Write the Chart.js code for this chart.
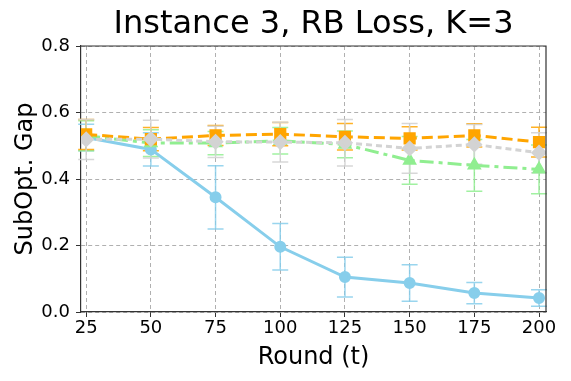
<!DOCTYPE html>
<html>
<head>
<meta charset="utf-8">
<script src="https://cdn.jsdelivr.net/npm/chart.js@4/dist/chart.umd.min.js"></script>
<style>
  html, body { margin: 0; padding: 0; background: #fff; }
  #wrap { width: 571px; height: 381px; }
</style>
</head>
<body>
<div id="wrap"><canvas id="chart" width="571" height="381"></canvas></div>
<script>
const rounds = [25, 50, 75, 100, 125, 150, 175, 200];

const blueVals = [0.525, 0.489, 0.345, 0.196, 0.105, 0.087, 0.057, 0.042];
const blueErr = [0.04, 0.05, 0.095, 0.07, 0.06, 0.055, 0.032, 0.025];

const orangeVals = [0.534, 0.52, 0.531, 0.535, 0.527, 0.522, 0.531, 0.511];
const orangeErr = [0.045, 0.035, 0.03, 0.035, 0.04, 0.035, 0.035, 0.045];

const grayVals = [0.519, 0.52, 0.512, 0.511, 0.509, 0.492, 0.504, 0.479];
const grayErr = [0.06, 0.057, 0.047, 0.06, 0.07, 0.075, 0.06, 0.06];

const greenVals = [0.53, 0.508, 0.508, 0.515, 0.504, 0.456, 0.441, 0.429];
const greenErr = [0.045, 0.04, 0.035, 0.04, 0.04, 0.072, 0.078, 0.073];

const yTicks = [0, 0.2, 0.4, 0.6, 0.8];

const font = 'DejaVu Sans';

function pts(vals) {
  return rounds.map((r, i) => ({ x: r, y: vals[i] }));
}

// vertical error bars with caps, drawn from the scales
const errorBars = {
  id: 'errorBars',
  beforeDatasetsDraw(chart) {
    const ctx = chart.ctx;
    const xs = chart.scales.x, ys = chart.scales.y;
    const sets = chart.data.datasets.slice().sort((a, b) => b.order - a.order);
    sets.forEach(d => {
      if (!d.errors) return;
      ctx.save();
      ctx.strokeStyle = d.errColor;
      ctx.lineWidth = 1.5;
      d.data.forEach((p, j) => {
        const x = xs.getPixelForValue(p.x);
        const y1 = ys.getPixelForValue(p.y - d.errors[j]);
        const y2 = ys.getPixelForValue(p.y + d.errors[j]);
        ctx.beginPath();
        ctx.moveTo(x, y1); ctx.lineTo(x, y2);
        ctx.moveTo(x - 8, y1); ctx.lineTo(x + 8, y1);
        ctx.moveTo(x - 8, y2); ctx.lineTo(x + 8, y2);
        ctx.stroke();
      });
      ctx.restore();
    });
  }
};

// top and right spines
const frame = {
  id: 'frame',
  afterDraw(chart) {
    const a = chart.chartArea, ctx = chart.ctx;
    ctx.save();
    ctx.strokeStyle = '#333';
    ctx.lineWidth = 1.2;
    ctx.beginPath();
    ctx.moveTo(a.left, a.top); ctx.lineTo(a.right, a.top); ctx.lineTo(a.right, a.bottom);
    ctx.stroke();
    ctx.restore();
  }
};

new Chart(document.getElementById('chart'), {
  type: 'line',
  data: {
    datasets: [
      {
        data: pts(blueVals), errors: blueErr, errColor: 'rgba(135,206,235,0.85)',
        borderColor: '#87CEEB', backgroundColor: '#87CEEB', borderWidth: 3,
        pointStyle: 'circle', pointRadius: 4.5, order: 4
      },
      {
        data: pts(greenVals), errors: greenErr, errColor: 'rgba(144,238,144,0.85)',
        borderColor: '#90EE90', backgroundColor: '#90EE90', borderWidth: 3,
        borderDash: [14, 5, 4, 5], pointStyle: 'triangle', pointRadius: 5.5, order: 3
      },
      {
        data: pts(orangeVals), errors: orangeErr, errColor: 'rgba(255,165,0,0.85)',
        borderColor: '#FFA500', backgroundColor: '#FFA500', borderWidth: 3,
        borderDash: [11, 5], pointStyle: 'rect', pointRadius: 6.5, order: 2
      },
      {
        data: pts(grayVals), errors: grayErr, errColor: 'rgba(211,211,211,0.9)',
        borderColor: '#D3D3D3', backgroundColor: '#D3D3D3', borderWidth: 3,
        borderDash: [6, 4], pointStyle: 'rectRot', pointRadius: 6, order: 1
      }
    ]
  },
  options: {
    responsive: false,
    animation: false,
    layout: { padding: { right: 25, left: 0, bottom: 0, top: 0 } },
    plugins: {
      legend: { display: false },
      tooltip: { enabled: false },
      title: {
        display: true,
        text: 'Instance 3, RB Loss, K=3',
        fullSize: false,
        color: '#000',
        font: { family: font, size: 32, weight: 'normal' },
        padding: { top: 5, bottom: 2.6 }
      }
    },
    scales: {
      x: {
        type: 'linear',
        min: 23,
        max: 202.7,
        afterBuildTicks(scale) { scale.ticks = rounds.map(v => ({ value: v })); },
        afterFit(scale) { scale.height = 69; },
        ticks: { color: '#000', font: { family: font, size: 18 }, padding: 1, maxRotation: 0, autoSkip: false },
        grid: { color: '#b0b0b0', tickLength: 5, tickColor: '#333', tickBorderDash: [] },
        border: { display: true, color: '#333', width: 1.2, dash: [4, 3] },
        title: { display: true, text: 'Round (t)', color: '#000', font: { family: font, size: 24 }, padding: { top: 0, bottom: 9 } }
      },
      y: {
        min: 0,
        max: 0.8,
        afterBuildTicks(scale) { scale.ticks = yTicks.map(v => ({ value: v })); },
        afterFit(scale) { scale.width = 81; },
        ticks: { color: '#000', font: { family: font, size: 18 }, padding: 6, callback: v => v.toFixed(1) },
        grid: { color: '#b0b0b0', tickLength: 5, tickColor: '#333', tickBorderDash: [] },
        border: { display: true, color: '#333', width: 1.2, dash: [4, 3] },
        title: { display: true, text: 'SubOpt. Gap', color: '#000', font: { family: font, size: 24 }, padding: { top: 11, bottom: 0 } }
      }
    }
  },
  plugins: [errorBars, frame]
});
</script>
</body>
</html>
